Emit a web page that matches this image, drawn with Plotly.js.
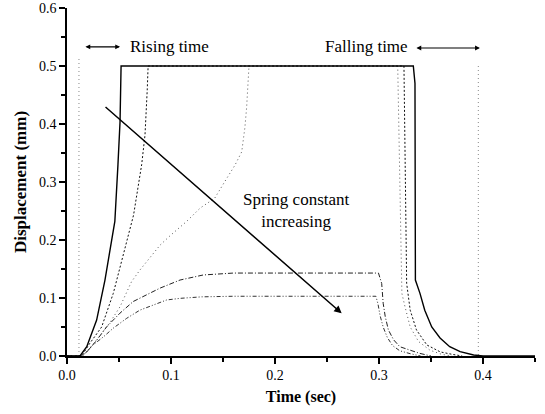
<!DOCTYPE html>
<html>
<head>
<meta charset="utf-8">
<script src="https://cdn.plot.ly/plotly-3.0.1.min.js"></script>
<style>html,body{margin:0;padding:0;background:#fff;}#chart{width:545px;height:414px;}</style>
</head>
<body>
<div id="chart"></div>
<script>
// Response curves (time in s, displacement in mm)
const t1 = [0, 0.0125, 0.019, 0.0285, 0.0365, 0.0445, 0.046, 0.049, 0.051, 0.052, 0.333, 0.3346, 0.335, 0.3394, 0.344, 0.3507, 0.3587, 0.368, 0.378, 0.391, 0.40, 0.45];
const y1 = [0, 0, 0.016, 0.062, 0.131, 0.217, 0.232, 0.33, 0.404, 0.5, 0.5, 0.47, 0.131, 0.108, 0.079, 0.05, 0.031, 0.016, 0.0075, 0.0017, 0, 0];

const t2 = [0, 0.014, 0.022, 0.0333, 0.0445, 0.0574, 0.064, 0.0718, 0.075, 0.0772, 0.078, 0.324, 0.3255, 0.3266, 0.33, 0.336, 0.346, 0.359, 0.37, 0.38];
const y2 = [0, 0, 0.022, 0.05, 0.108, 0.197, 0.243, 0.33, 0.381, 0.461, 0.5, 0.5, 0.3, 0.125, 0.079, 0.045, 0.019, 0.007, 0.003, 0];

const t3 = [0, 0.015, 0.025, 0.033, 0.041, 0.051, 0.062, 0.07, 0.08, 0.0894, 0.0995, 0.115, 0.128, 0.142, 0.1535, 0.1615, 0.168, 0.171, 0.1727, 0.175, 0.318, 0.32, 0.322, 0.325, 0.33, 0.338, 0.349, 0.36, 0.37];
const y3 = [0, 0, 0.02, 0.038, 0.057, 0.085, 0.128, 0.148, 0.171, 0.191, 0.208, 0.232, 0.255, 0.272, 0.306, 0.329, 0.352, 0.393, 0.428, 0.5, 0.5, 0.3, 0.108, 0.085, 0.05, 0.025, 0.01, 0.003, 0];

const t4 = [0, 0.014, 0.019, 0.0285, 0.038, 0.051, 0.0637, 0.0766, 0.0894, 0.1087, 0.131, 0.16, 0.2995, 0.3026, 0.304, 0.306, 0.309, 0.314, 0.32, 0.33, 0.339, 0.35];
const y4 = [0, 0, 0.007, 0.027, 0.05, 0.074, 0.094, 0.105, 0.117, 0.131, 0.1397, 0.143, 0.143, 0.125, 0.091, 0.068, 0.045, 0.028, 0.016, 0.01, 0.0046, 0];

const t5 = [0, 0.015, 0.025, 0.035, 0.0445, 0.0574, 0.07, 0.083, 0.0958, 0.1087, 0.1295, 0.16, 0.297, 0.299, 0.301, 0.304, 0.308, 0.313, 0.32, 0.33, 0.34];
const y5 = [0, 0, 0.019, 0.033, 0.048, 0.065, 0.079, 0.088, 0.0966, 0.0994, 0.102, 0.103, 0.103, 0.09, 0.07, 0.05, 0.032, 0.018, 0.009, 0.004, 0];

// Input pulse edges (dotted verticals)
const tPulse = [0.0115, 0.0115, null, 0.3955, 0.3955];
const yPulse = [0, 0.513, null, 0.5, 0];

// Annotation texts and positions
const riseLabel = "Rising time";
const fallLabel = "Falling time";
const springLabel = "Spring constant<br>increasing";
const riseArrow = [0.0163, 0.051, 0.533];
const fallArrow = [0.3346, 0.397, 0.531];
const trendArrow = [0.0356, 0.4316, 0.2641, 0.0736];

const xTicks = [0, 0.1, 0.2, 0.3, 0.4];
const xTickText = ["0.0", "0.1", "0.2", "0.3", "0.4"];
const yTicks = [0, 0.1, 0.2, 0.3, 0.4, 0.5, 0.6];
const yTickText = ["0.0", "0.1", "0.2", "0.3", "0.4", "0.5", "0.6"];

const serif = "Liberation Serif";

const traces = [
  {x: tPulse, y: yPulse, mode: "lines", line: {color: "#888", width: 1, dash: "1px,3px"}},
  {x: t5, y: y5, mode: "lines", line: {color: "#333", width: 1, dash: "4px,2px,1px,2px,1px,2px"}},
  {x: t4, y: y4, mode: "lines", line: {color: "#222", width: 1, dash: "5px,2px,1px,2px"}},
  {x: t3, y: y3, mode: "lines", line: {color: "#555", width: 1, dash: "1px,3px"}},
  {x: t2, y: y2, mode: "lines", line: {color: "#111", width: 1, dash: "2px,2px"}},
  {x: t1, y: y1, mode: "lines", line: {color: "#000", width: 1.4}}
];

const annotations = [
  {x: 0.0986, y: 0.533, xref: "x", yref: "y", text: riseLabel, showarrow: false,
   font: {family: serif, size: 17, color: "#000"}},
  {x: 0.2875, y: 0.533, xref: "x", yref: "y", text: fallLabel, showarrow: false,
   font: {family: serif, size: 17, color: "#000"}},
  {x: 0.221, y: 0.251, xref: "x", yref: "y", text: springLabel, showarrow: false,
   font: {family: serif, size: 17, color: "#000"}},
  {x: riseArrow[1], y: riseArrow[2], ax: riseArrow[0], ay: riseArrow[2], xref: "x", yref: "y",
   axref: "x", ayref: "y", text: "", showarrow: true, arrowhead: 2, startarrowhead: 2,
   arrowside: "end+start", arrowsize: 0.8, arrowwidth: 1.2, arrowcolor: "#000"},
  {x: fallArrow[1], y: fallArrow[2], ax: fallArrow[0], ay: fallArrow[2], xref: "x", yref: "y",
   axref: "x", ayref: "y", text: "", showarrow: true, arrowhead: 2, startarrowhead: 2,
   arrowside: "end+start", arrowsize: 0.8, arrowwidth: 1.2, arrowcolor: "#000"},
  {x: trendArrow[2], y: trendArrow[3], ax: trendArrow[0], ay: trendArrow[1], xref: "x", yref: "y",
   axref: "x", ayref: "y", text: "", showarrow: true, arrowhead: 2, arrowsize: 1,
   arrowwidth: 1.5, arrowcolor: "#000"}
];

const axisCommon = {
  showline: true, linecolor: "#000", linewidth: 1.6, showgrid: false, zeroline: false,
  ticks: "outside", ticklen: 6, tickwidth: 1.3, tickcolor: "#000",
  tickfont: {family: serif, size: 14, color: "#000"}, mirror: false
};

const layout = {
  width: 545, height: 414,
  margin: {l: 67, r: 10, t: 8, b: 58},
  paper_bgcolor: "#fff", plot_bgcolor: "#fff",
  font: {family: serif, color: "#000"},
  showlegend: false,
  xaxis: Object.assign({}, axisCommon, {
    range: [0, 0.45], tickvals: xTicks, ticktext: xTickText,
    minor: {dtick: 0.05, tick0: 0, ticks: "outside", ticklen: 4, tickwidth: 1.1, tickcolor: "#000"},
    title: {text: "<b>Time (sec)</b>", font: {family: serif, size: 16, color: "#000"}, standoff: 8}
  }),
  yaxis: Object.assign({}, axisCommon, {
    range: [0, 0.6], tickvals: yTicks, ticktext: yTickText,
    minor: {dtick: 0.05, tick0: 0, ticks: "outside", ticklen: 4, tickwidth: 1.1, tickcolor: "#000"},
    title: {text: "<b>Displacement (mm)</b>", font: {family: serif, size: 17, color: "#000"}, standoff: 8}
  }),
  annotations: annotations
};

Plotly.newPlot("chart", traces, layout, {displayModeBar: false, staticPlot: true});
</script>
</body>
</html>
